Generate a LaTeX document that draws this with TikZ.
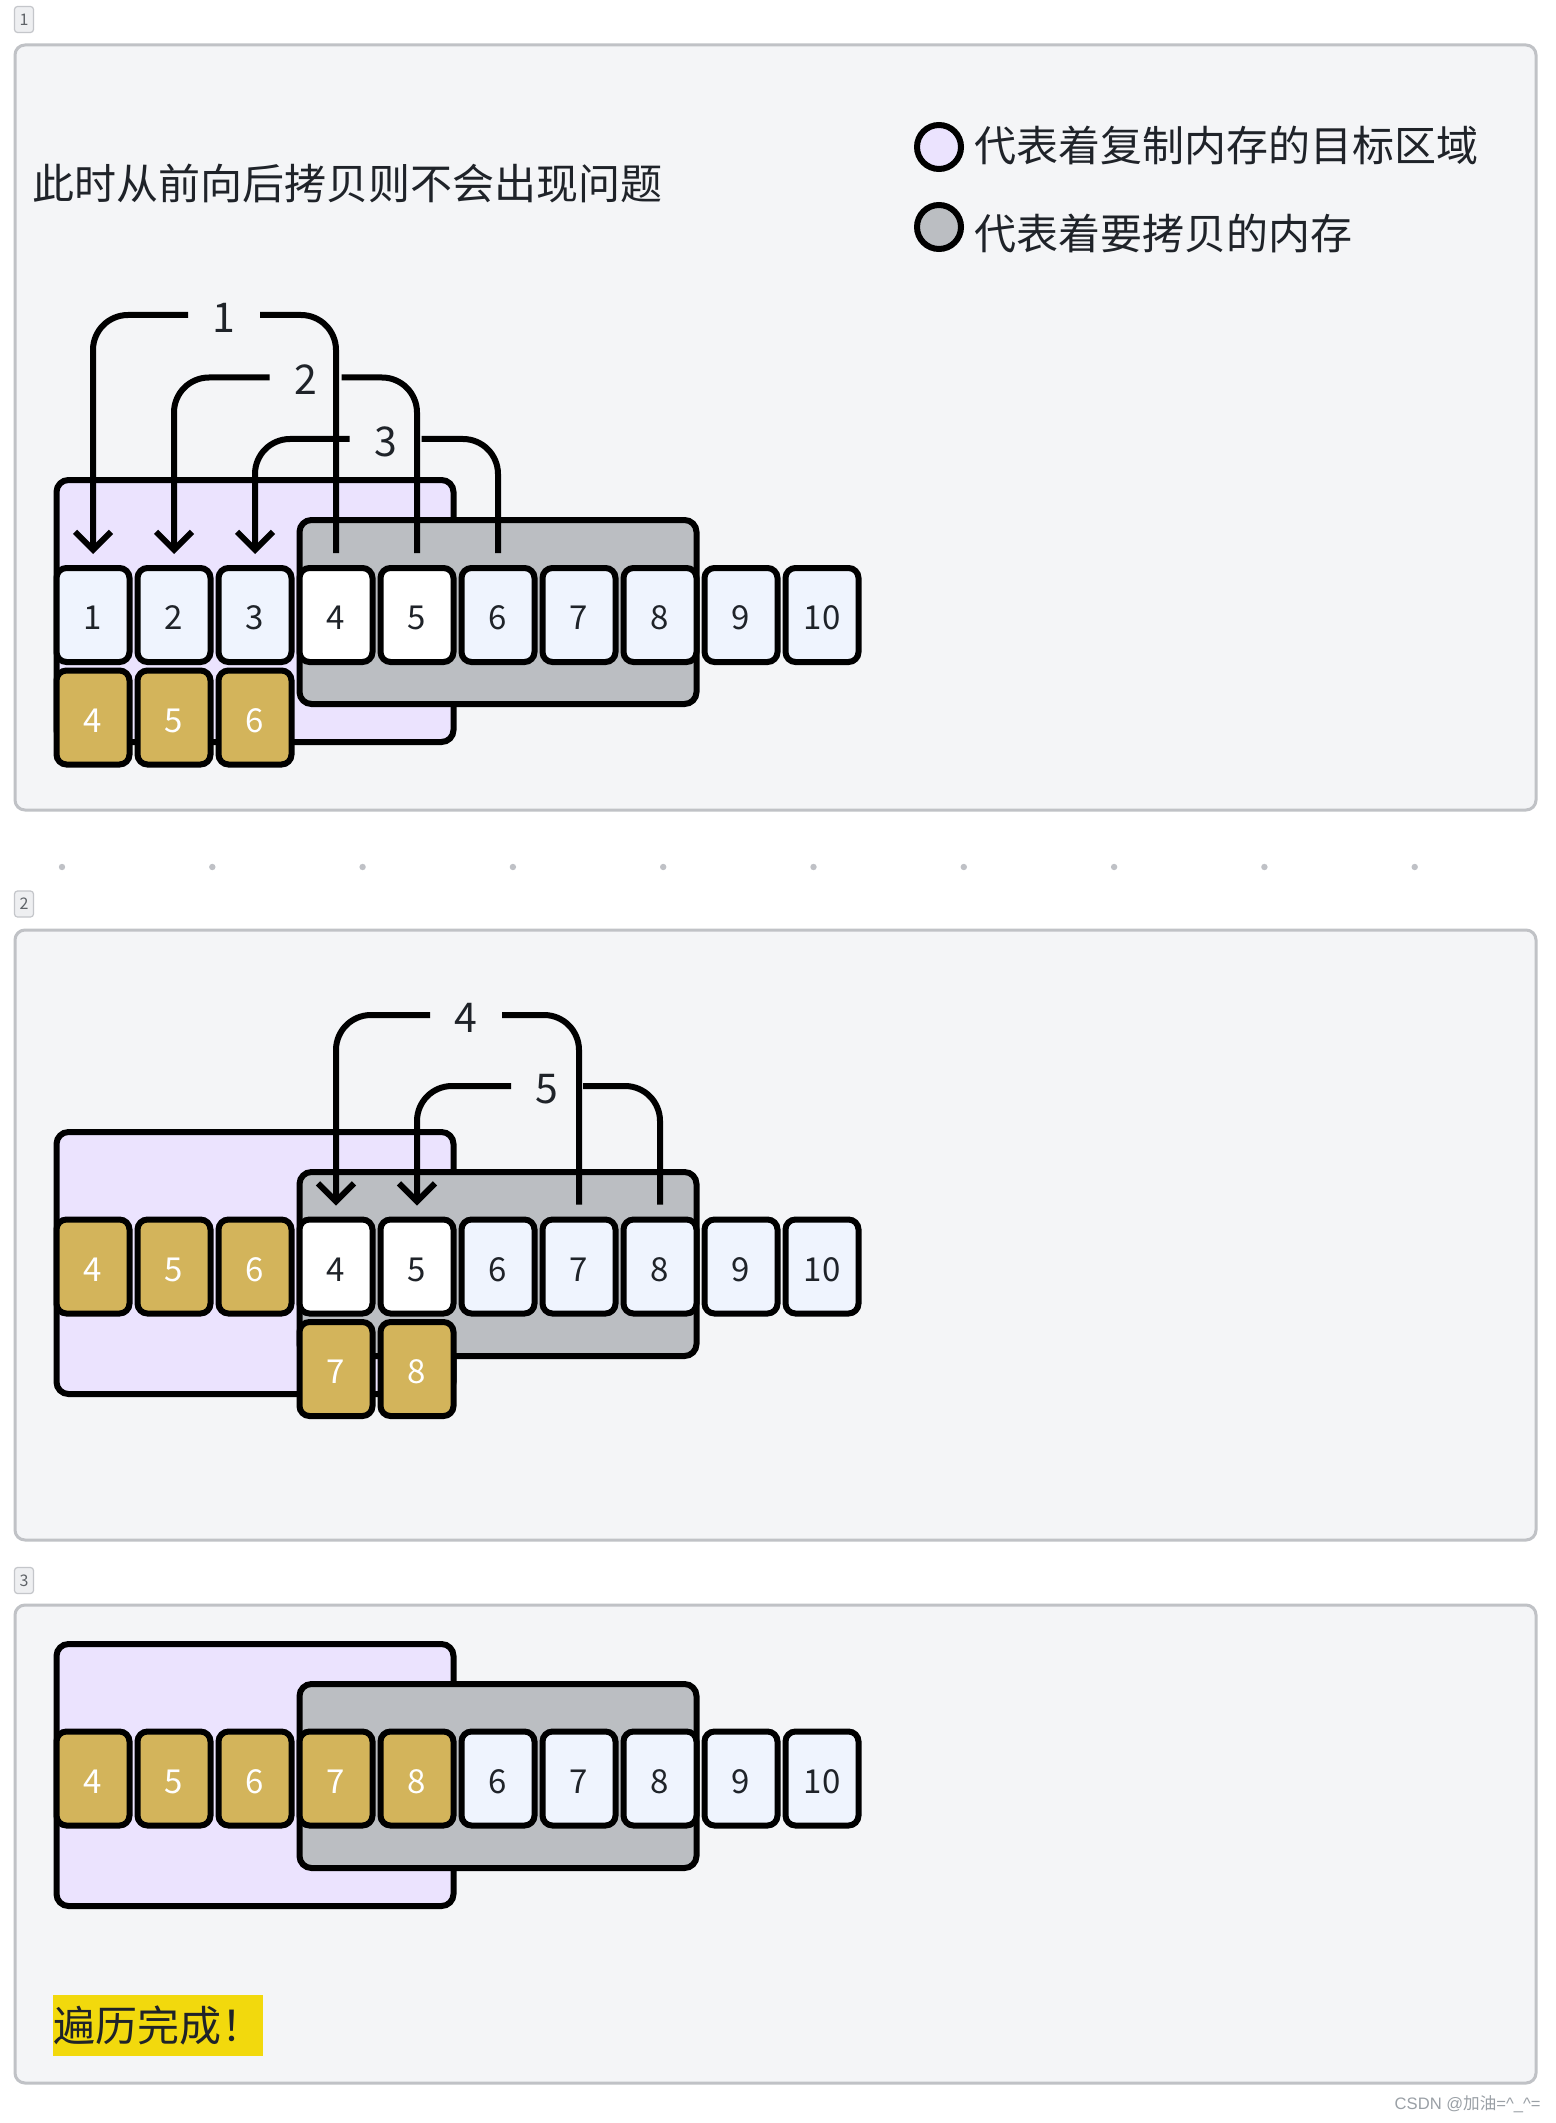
\documentclass[tikz,border=0pt]{standalone}
\usepackage{fontspec}
\setmainfont{Noto Sans CJK SC}
\newfontfamily\wmfont{Liberation Sans}
\newfontfamily\cjkfont{Noto Sans CJK SC}
\usetikzlibrary{arrows.meta}
\definecolor{panelbg}{HTML}{F4F5F7}
\definecolor{panelborder}{HTML}{C0C2C6}
\definecolor{tagfill}{HTML}{EEEFF1}
\definecolor{tagborder}{HTML}{C4C6CA}
\definecolor{taggray}{HTML}{5F6368}
\definecolor{purplefill}{HTML}{EBE3FE}
\definecolor{grayfill}{HTML}{BBBEC2}
\definecolor{lightfill}{HTML}{EFF4FE}
\definecolor{goldfill}{HTML}{D3B45B}
\definecolor{textdark}{HTML}{1F2329}
\definecolor{hlyellow}{HTML}{F2D90D}
\definecolor{dotc}{HTML}{BFC1C6}
\definecolor{wmgray}{HTML}{9AA0A6}
\begin{document}
\begin{tikzpicture}[x=0.5pt,y=-0.5pt,
  panel/.style={draw=panelborder, fill=panelbg, line width=1.5pt, rounded corners=5pt},
  tag/.style={draw=tagborder, fill=tagfill, line width=0.6pt, rounded corners=1.5pt, minimum width=9.5pt, minimum height=13pt, inner sep=0pt, text=taggray, font=\fontsize{8pt}{9pt}\selectfont},
  region/.style={draw=black, line width=3pt, rounded corners=6pt, minimum width=198.5pt, inner sep=0pt},
  dstbox/.style={region, fill=purplefill, minimum height=131pt},
  srcbox/.style={region, fill=grayfill, minimum height=92pt},
  cell/.style={draw=black, line width=3pt, rounded corners=5pt, minimum width=36.5pt, minimum height=47pt, inner sep=0pt, text height=14.5pt, text depth=0pt, font=\fontsize{16.5pt}{20pt}\selectfont, text=textdark},
  lightcell/.style={cell, fill=lightfill},
  whitecell/.style={cell, fill=white},
  goldcell/.style={cell, fill=goldfill, text=white},
  conn/.style={draw=black, line width=3pt, rounded corners=17.5pt},
  connstart/.style={conn, shorten <=6pt},
  connend/.style={conn, -{Straight Barb[length=9pt, width=18pt]}, shorten >=5.5pt},
  lab/.style={inner sep=0pt, outer sep=0pt, minimum width=36pt, text height=17.5pt, text depth=0pt, font=\fontsize{20.5pt}{24pt}\selectfont, text=textdark},
  txt/.style={inner sep=0pt, font=\fontsize{21pt}{25pt}\selectfont, text=textdark},
  legendring/.style={circle, draw=black, line width=3pt, minimum size=22pt, inner sep=0pt}
]
\useasboundingbox[fill=white] (0,0) rectangle (1556,2123);

% ---------- panels ----------
\draw[panel] (15,45) rectangle (1536,810);
\draw[panel] (15,930) rectangle (1536,1540);
\draw[panel] (15,1605) rectangle (1536,2083);
\node[tag] (tag1) at (24,19.5) {1};
\node[tag] (tag2) at (24,904) {2};
\node[tag] (tag3) at (24,1580.5) {3};
\foreach \k in {0,...,9} \fill[dotc] ({62+150.3*\k},867) circle (1.6pt);

% ---------- panel 1 ----------
\node[txt, anchor=west] (title) at (32,184) {此时从前向后拷贝则不会出现问题};
\node[legendring, fill=purplefill] (leg1) at (939,147) {};
\node[txt, anchor=west] (legt1) at (974,145) {代表着复制内存的目标区域};
\node[legendring, fill=grayfill] (leg2) at (939,227) {};
\node[txt, anchor=west] (legt2) at (974,233) {代表着要拷贝的内存};

\node[dstbox] (p1dst) at (255,611) {};
\node[srcbox] (p1src) at (498,612) {};
\node[lightcell] (p1c1) at (93,615) {1};
\node[lightcell] (p1c2) at (174,615) {2};
\node[lightcell] (p1c3) at (255,615) {3};
\node[whitecell] (p1c4) at (336,615) {4};
\node[whitecell] (p1c5) at (417,615) {5};
\node[lightcell] (p1c6) at (498,615) {6};
\node[lightcell] (p1c7) at (579,615) {7};
\node[lightcell] (p1c8) at (660,615) {8};
\node[lightcell] (p1c9) at (741,615) {9};
\node[lightcell] (p1c10) at (822,615) {10};
\node[goldcell] (p1g1) at (93,717.5) {4};
\node[goldcell] (p1g2) at (174,717.5) {5};
\node[goldcell] (p1g3) at (255,717.5) {6};

\node[lab] (l1) at (224,315) {1};
\node[lab] (l2) at (305.5,377.5) {2};
\node[lab] (l3) at (385.5,439) {3};
\draw[connstart] (p1c4.north) |- (l1.east);
\draw[connend] (l1.west) -| (p1c1.north);
\draw[connstart] (p1c5.north) |- (l2.east);
\draw[connend] (l2.west) -| (p1c2.north);
\draw[connstart] (p1c6.north) |- (l3.east);
\draw[connend] (l3.west) -| (p1c3.north);

% ---------- panel 2 ----------
\node[dstbox] (p2dst) at (255,1263) {};
\node[srcbox] (p2src) at (498,1264) {};
\node[goldcell] (p2c1) at (93,1266.5) {4};
\node[goldcell] (p2c2) at (174,1266.5) {5};
\node[goldcell] (p2c3) at (255,1266.5) {6};
\node[whitecell] (p2c4) at (336,1266.5) {4};
\node[whitecell] (p2c5) at (417,1266.5) {5};
\node[lightcell] (p2c6) at (498,1266.5) {6};
\node[lightcell] (p2c7) at (579,1266.5) {7};
\node[lightcell] (p2c8) at (660,1266.5) {8};
\node[lightcell] (p2c9) at (741,1266.5) {9};
\node[lightcell] (p2c10) at (822,1266.5) {10};
\node[goldcell] (p2g4) at (336,1369) {7};
\node[goldcell] (p2g5) at (417,1369) {8};

\node[lab] (l4) at (466,1015) {4};
\node[lab] (l5) at (547,1086) {5};
\draw[connstart] (p2c7.north) |- (l4.east);
\draw[connend] (l4.west) -| (p2c4.north);
\draw[connstart] (p2c8.north) |- (l5.east);
\draw[connend] (l5.west) -| (p2c5.north);

% ---------- panel 3 ----------
\node[dstbox] (p3dst) at (255,1775) {};
\node[srcbox] (p3src) at (498,1776) {};
\node[goldcell] (p3c1) at (93,1778.5) {4};
\node[goldcell] (p3c2) at (174,1778.5) {5};
\node[goldcell] (p3c3) at (255,1778.5) {6};
\node[goldcell] (p3c4) at (336,1778.5) {7};
\node[goldcell] (p3c5) at (417,1778.5) {8};
\node[lightcell] (p3c6) at (498,1778.5) {6};
\node[lightcell] (p3c7) at (579,1778.5) {7};
\node[lightcell] (p3c8) at (660,1778.5) {8};
\node[lightcell] (p3c9) at (741,1778.5) {9};
\node[lightcell] (p3c10) at (822,1778.5) {10};

\node[txt, fill=hlyellow, minimum height=30.5pt, inner xsep=0pt] (done) at (158,2025.5) {遍历完成！};

% ---------- watermark ----------
\node[anchor=east, inner sep=0pt, text=wmgray, font=\wmfont\fontsize{8.3pt}{9pt}\selectfont] (wm) at (1541,2104) {CSDN @{\cjkfont 加油}=\textasciicircum\_\textasciicircum=};
\end{tikzpicture}
\end{document}
